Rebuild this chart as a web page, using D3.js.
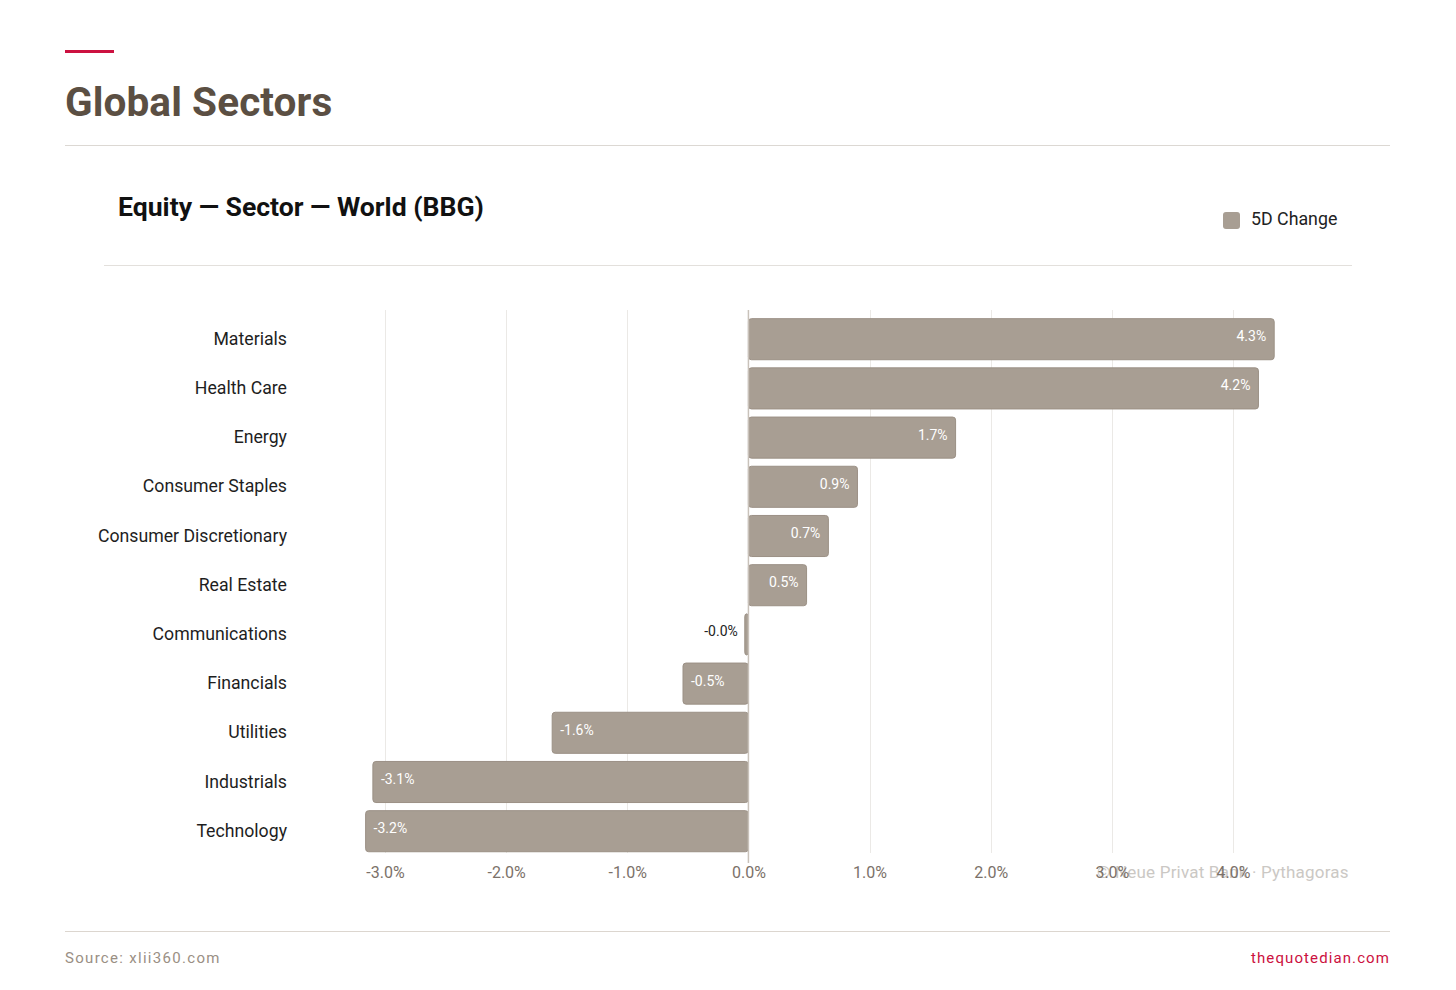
<!DOCTYPE html>
<html>
<head>
<meta charset="utf-8">
<script src="https://cdn.jsdelivr.net/npm/d3@7"></script>
<style>
  body { margin: 0; background: #fff; }
  svg { display: block; font-family: Roboto, "Noto Sans", sans-serif; }
</style>
</head>
<body>
<svg width="1456" height="990"></svg>
<script>
'use strict';
// ....... data .......
const sectors = ['Materials', 'Health Care', 'Energy', 'Consumer Staples', 'Consumer Discretionary',
  'Real Estate', 'Communications', 'Financials', 'Utilities', 'Industrials', 'Technology'];
const change5d = [4.34, 4.21, 1.71, 0.90, 0.66, 0.48, -0.03, -0.54, -1.62, -3.10, -3.16];
const xTicks = [-3, -2, -1, 0, 1, 2, 3, 4];
const seriesName = '5D Change';

const svg = d3.select('svg');
const barFill = '#a89e93';
const barStroke = '#9b9085';
const pct = d => d.toFixed(1) + '%';

// ....... header .......
svg.append('rect').attr('x', 65).attr('y', 50).attr('width', 49).attr('height', 3).attr('fill', '#cc1140');
svg.append('text').attr('x', 65).attr('y', 116)
  .attr('font-size', 40.5).attr('letter-spacing', 0.1).attr('font-weight', 700).attr('fill', '#5b4f43')
  .text('Global Sectors');
svg.append('line').attr('x1', 65).attr('x2', 1390).attr('y1', 145.5).attr('y2', 145.5)
  .attr('stroke', '#dcd8d3');

svg.append('text').attr('x', 118).attr('y', 216)
  .attr('font-size', 26.6).attr('letter-spacing', 0).attr('font-weight', 700).attr('fill', '#111')
  .text('Equity \u2014 Sector \u2014 World (BBG)');

// legend
svg.append('rect').attr('x', 1223).attr('y', 212).attr('width', 17).attr('height', 17).attr('rx', 3)
  .attr('fill', barFill);
svg.append('text').attr('x', 1251).attr('y', 225).attr('font-size', 17.8).attr('fill', '#222')
  .text(seriesName);

svg.append('line').attr('x1', 104).attr('x2', 1352).attr('y1', 265.5).attr('y2', 265.5)
  .attr('stroke', '#e3e0dc');

// ....... scales .......
const x = d3.scaleLinear().domain([-3, 4]).range([385, 1233]);
const y = d3.scaleBand().domain(sectors).range([314.6, 855.8])
  .paddingInner(0.165).paddingOuter(0.0825);

const plot = svg.append('g');

// gridlines
plot.selectAll('line.grid').data(xTicks.filter(t => t !== 0)).join('line')
  .attr('class', 'grid')
  .attr('x1', d => Math.round(x(d)) + 0.5).attr('x2', d => Math.round(x(d)) + 0.5)
  .attr('y1', 310).attr('y2', 853)
  .attr('stroke', '#ebe9e6');

// watermark (sits under the last tick labels, as in the source)
svg.append('text').attr('x', 1097).attr('y', 878).attr('font-size', 17).attr('letter-spacing', 0.2)
  .attr('fill', '#cbc8c4')
  .text('\u00a9 Neue Privat Bank \u00b7 Pythagoras');

// x axis
const xAxis = d3.axisBottom(x).tickValues(xTicks).tickFormat(pct).tickSize(0).tickPadding(0);
const axG = svg.append('g').attr('transform', 'translate(0,864)').call(xAxis);
axG.select('.domain').remove();
axG.selectAll('text').attr('font-size', 16).attr('fill', '#7b7169')
  .attr('font-family', 'Roboto, sans-serif').attr('dy', '0.85em');

// bars
const data = sectors.map((s, i) => ({ s, v: change5d[i] }));
plot.selectAll('rect.bar').data(data).join('rect')
  .attr('class', 'bar')
  .attr('x', d => x(Math.min(0, d.v)))
  .attr('width', d => Math.max(2, Math.abs(x(d.v) - x(0))))
  .attr('y', d => y(d.s))
  .attr('height', y.bandwidth())
  .attr('rx', 3)
  .attr('fill', barFill)
  .attr('stroke', barStroke)
  .attr('stroke-width', 1);

// zero line
svg.append('line').attr('x1', x(0)).attr('x2', x(0)).attr('y1', 310).attr('y2', 863)
  .attr('stroke', '#c9c2ba').attr('stroke-width', 1.5);

// value labels
plot.selectAll('text.val').data(data).join('text')
  .attr('class', 'val')
  .attr('y', d => y(d.s) + y.bandwidth() / 2 - 3)
  .attr('dy', '0.35em')
  .attr('font-size', 14)
  .each(function (d) {
    const w = Math.abs(x(d.v) - x(0));
    const t = d3.select(this);
    if (w < 40) {
      t.attr('x', x(Math.min(0, d.v)) - 7).attr('text-anchor', 'end').attr('fill', '#222');
    } else if (d.v >= 0) {
      t.attr('x', x(d.v) - 8).attr('text-anchor', 'end').attr('fill', '#fff');
    } else {
      t.attr('x', x(d.v) + 8).attr('text-anchor', 'start').attr('fill', '#fff');
    }
  })
  .text(d => pct(d.v));

// category labels
const yAxis = d3.axisLeft(y).tickSize(0).tickPadding(0);
const yG = svg.append('g').attr('transform', 'translate(287,0)').call(yAxis);
yG.select('.domain').remove();
yG.selectAll('text').attr('font-size', 17.7).attr('fill', '#1e1e1e')
  .attr('font-family', 'Roboto, sans-serif');

// ....... footer .......
svg.append('line').attr('x1', 65).attr('x2', 1390).attr('y1', 931.5).attr('y2', 931.5)
  .attr('stroke', '#dcd6cf');
svg.append('text').attr('x', 65).attr('y', 963).attr('font-size', 15)
  .attr('letter-spacing', 1.3).attr('fill', '#9a8f84')
  .text('Source: xlii360.com');
svg.append('text').attr('x', 1390).attr('y', 963).attr('font-size', 15)
  .attr('letter-spacing', 1.1).attr('fill', '#cc1140').attr('text-anchor', 'end')
  .text('thequotedian.com');
</script>
</body>
</html>
